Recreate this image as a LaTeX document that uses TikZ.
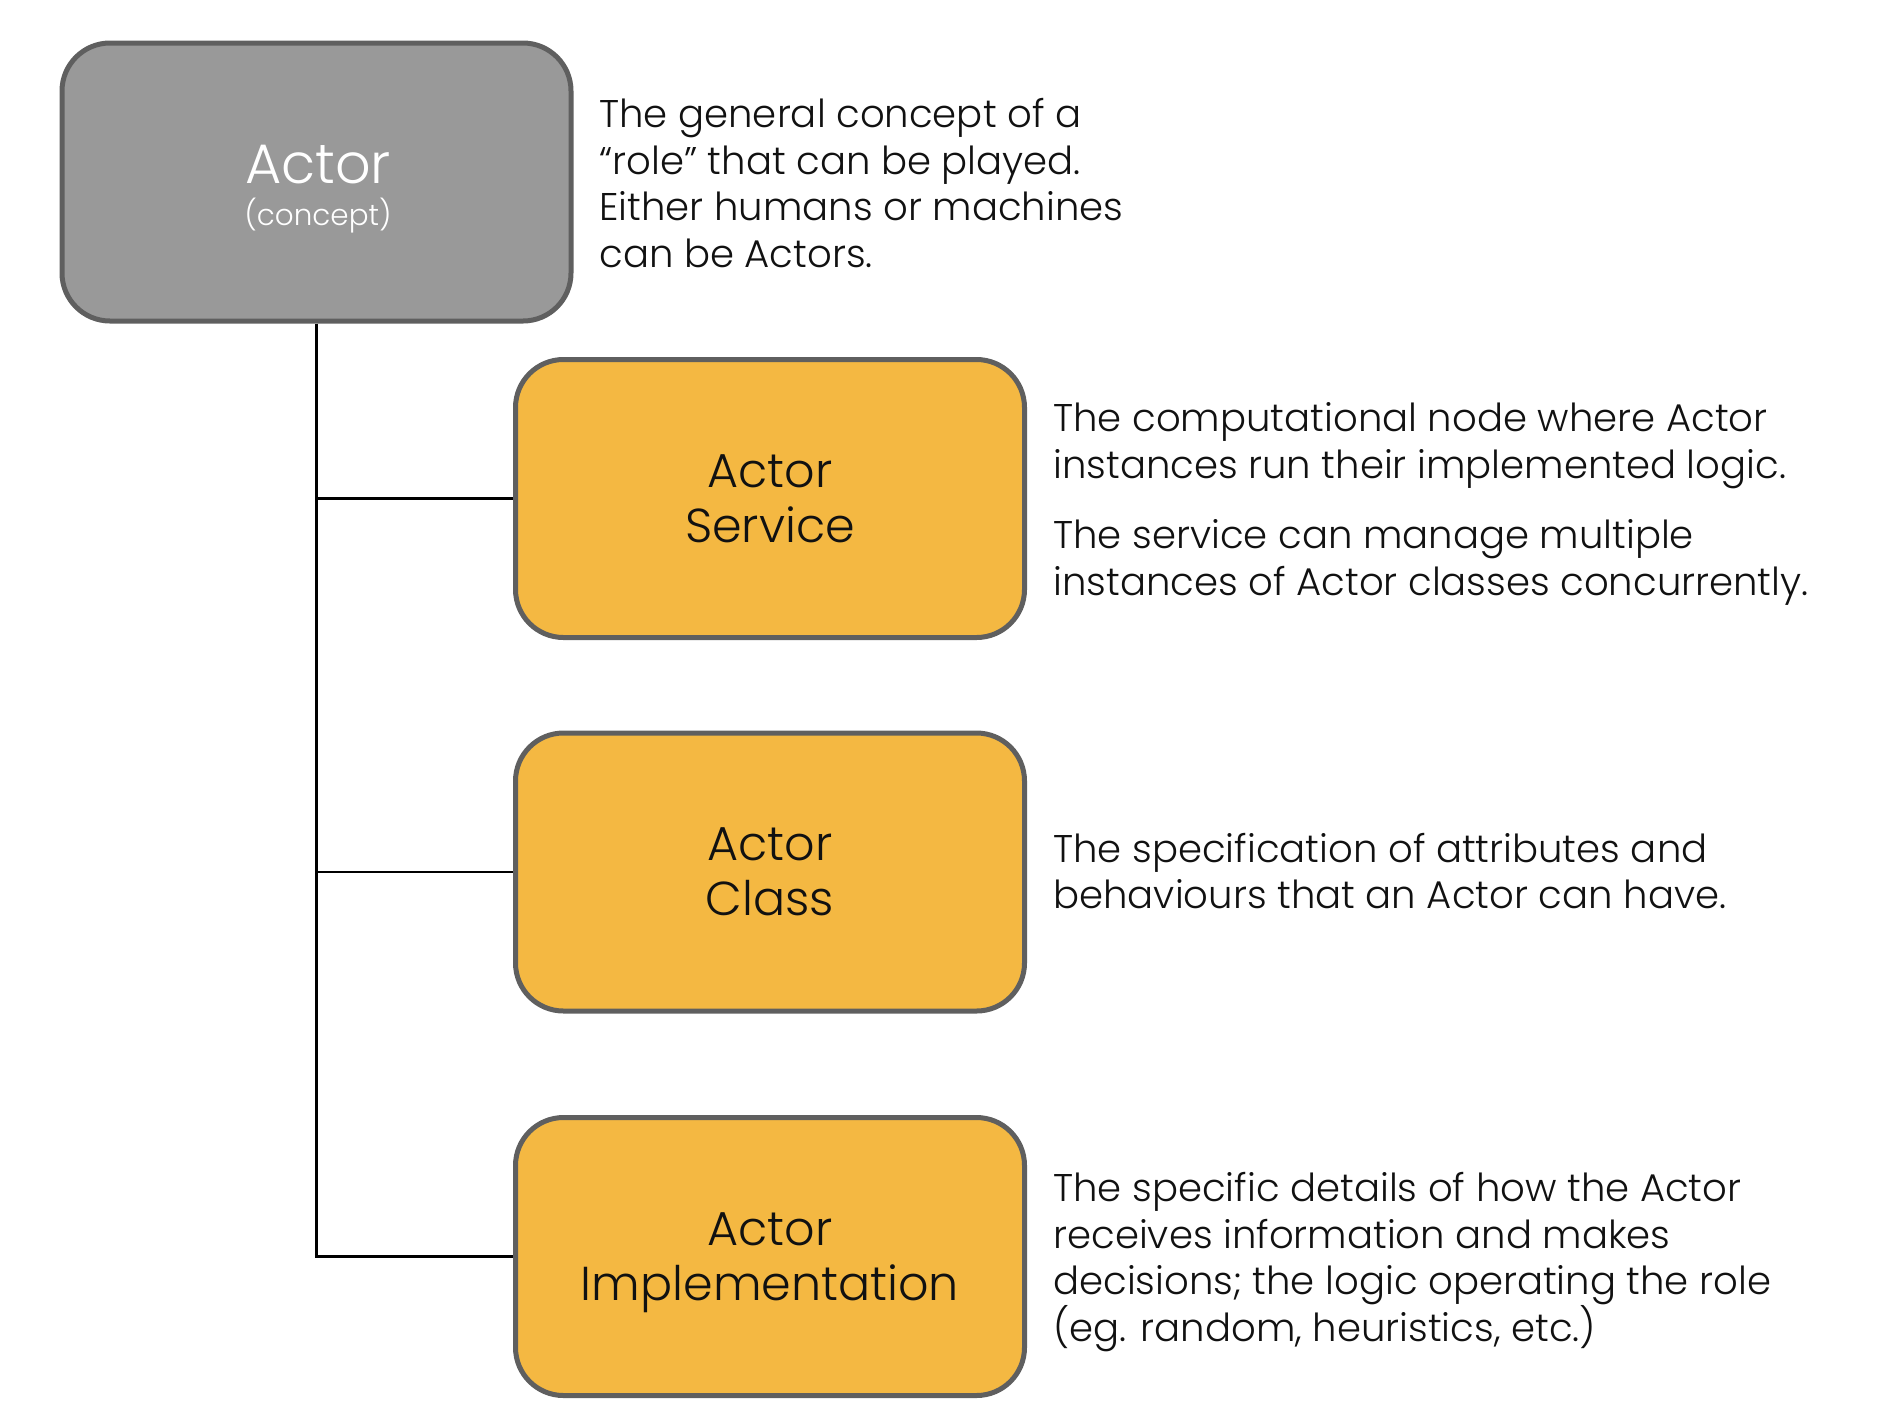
\documentclass[tikz,border=0pt]{standalone}
\usepackage{fontspec}
\setmainfont{Poppins}[UprightFont=* Light]
\definecolor{boxline}{HTML}{5F5F5F}
\definecolor{grayfill}{HTML}{999999}
\definecolor{orangefill}{HTML}{F4B842}
\definecolor{txt}{HTML}{111111}
\begin{document}
\begin{tikzpicture}[x=0.5pt,y=-0.5pt,
  box/.style={draw=boxline, line width=2.5pt, rounded corners=24pt,
    minimum width=254.5pt, minimum height=139pt, align=center, inner sep=0pt},
  conceptbox/.style={box, fill=grayfill},
  rolebox/.style={box, fill=orangefill, text=txt,
    font=\fontsize{23.8}{27.4}\selectfont},
  conceptlbl/.style={text=white, inner sep=0pt},
  desc/.style={anchor=west, align=left, inner sep=0pt, text=txt,
    font=\fontsize{19.3}{23.3}\selectfont},
  link/.style={draw=black, line width=1.2pt}]
\useasboundingbox (0,0) rectangle (1900,1410);
\node[conceptbox] (actor) at (316.5,182) {};
\node[conceptlbl, font=\fontsize{27.8}{34}\selectfont] (actorname) at (318,164.5) {Actor};
\node[conceptlbl, font=\fontsize{14.7}{20}\selectfont] (actorsub) at (318,215.5) {(concept)};
\node[rolebox] (service) at (770,498.5) {Actor\\Service};
\node[rolebox] (class) at (770,872) {Actor\\Class};
\node[rolebox] (impl) at (770,1256.5) {Actor\\\smash{Implementation}};
\draw[link] (actor.south) |- (impl.west);
\draw[link] (actor.south |- service.west) -- (service.west);
\draw[link] (actor.south |- class.west) -- (class.west);
\node[desc] (d1) at (599,183) {The general concept of a\\“role” that can be played.\\Either humans or machines\\can be Actors.};
\node[desc] (d2) at (1053,504) {The computational node where Actor\\instances run their implemented logic.\\[11.7pt]The service can manage multiple\\instances of Actor classes concurrently.};
\node[desc] (d3) at (1053,871) {The specification of attributes and\\behaviours that an Actor can have.};
\node[desc] (d4) at (1053,1262) {The specific details of how the Actor\\receives information and makes\\decisions; the logic operating the role\\(eg. random, heuristics, etc.)};
\end{tikzpicture}
\end{document}
